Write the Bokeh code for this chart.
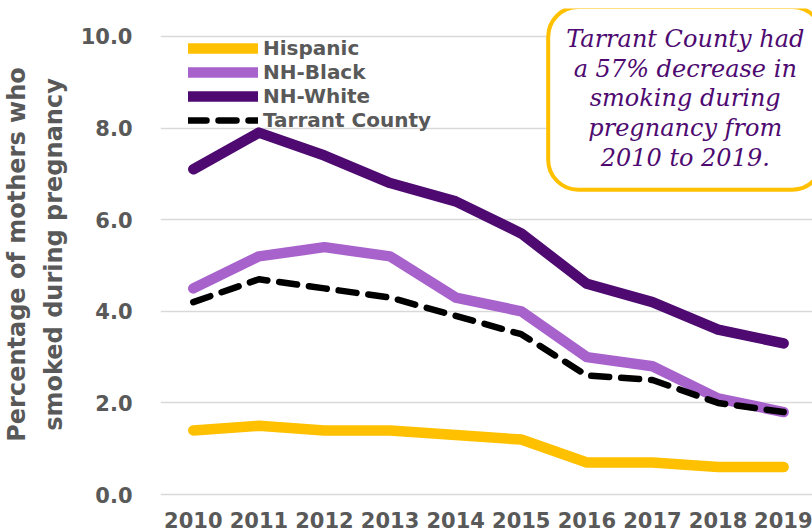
from bokeh.plotting import figure
from bokeh.models import (FixedTicker, NumeralTickFormatter, Legend, LegendItem,
                          Label, Range1d)
from bokeh.embed import file_html
from bokeh.resources import INLINE

years = [2010, 2011, 2012, 2013, 2014, 2015, 2016, 2017, 2018, 2019]
hispanic = [1.4, 1.5, 1.4, 1.4, 1.3, 1.2, 0.7, 0.7, 0.6, 0.6]
nh_black = [4.5, 5.2, 5.4, 5.2, 4.3, 4.0, 3.0, 2.8, 2.1, 1.8]
nh_white = [7.1, 7.9, 7.4, 6.8, 6.4, 5.7, 4.6, 4.2, 3.6, 3.3]
tarrant = [4.2, 4.7, 4.5, 4.3, 3.9, 3.5, 2.6, 2.5, 2.0, 1.8]
y_ticks = [0, 2, 4, 6, 8, 10]
series_names = ["Hispanic", "NH-Black", "NH-White", "Tarrant County"]
note = "Tarrant County had\na 57% decrease in\nsmoking during\npregnancy from\n2010 to 2019."

TXT = "#595959"
FONT = "DejaVu Sans"

p = figure(width=812, height=531, output_backend="svg", toolbar_location=None,
           x_range=Range1d(2009.5, 2019.44), y_range=Range1d(-0.13, 10.61),
           min_border_left=155, min_border_right=0, min_border_top=8,
           min_border_bottom=31)
p.outline_line_color = None
p.background_fill_color = "white"
p.border_fill_color = "white"

r1 = p.line(years, hispanic, line_color="#FFC000", line_width=10.5, line_cap="round", line_join="round")
r2 = p.line(years, nh_black, line_color="#A862CC", line_width=10.5, line_cap="round", line_join="round")
r3 = p.line(years, nh_white, line_color="#4E0A70", line_width=10.5, line_cap="round", line_join="round")
r4 = p.line(years, tarrant, line_color="black", line_width=6.5, line_dash="18 12",
            line_cap="round", line_join="round")

p.xgrid.grid_line_color = None
p.ygrid.grid_line_color = "#d9d9d9"
p.ygrid.grid_line_width = 1.5

p.xaxis.ticker = FixedTicker(ticks=years)
p.yaxis.ticker = FixedTicker(ticks=y_ticks)
p.yaxis.formatter = NumeralTickFormatter(format="0.0")
for ax in (p.xaxis, p.yaxis):
    ax.axis_line_color = None
    ax.major_tick_line_color = None
    ax.minor_tick_line_color = None
    ax.major_label_text_font = FONT
    ax.major_label_text_font_style = "bold"
    ax.major_label_text_color = TXT
    ax.major_label_text_font_size = "21px"
p.xaxis.major_label_standoff = 5
p.yaxis.major_label_standoff = 22
p.yaxis.axis_label = "Percentage of mothers who\nsmoked during pregnancy"
p.yaxis.axis_label_text_font = FONT
p.yaxis.axis_label_text_font_style = "bold"
p.yaxis.axis_label_text_font_size = "24px"
p.yaxis.axis_label_text_line_height = 1.3
p.yaxis.axis_label_text_color = TXT
p.yaxis.axis_label_standoff = 10

legend = Legend(items=[LegendItem(label=n, renderers=[r]) for n, r in
                       zip(series_names, [r1, r2, r3, r4])],
                location="top_left", margin=28, padding=0,
                glyph_width=70, glyph_height=20, label_height=20, spacing=-2,
                label_standoff=5, background_fill_alpha=0, border_line_color=None,
                label_text_font=FONT, label_text_font_style="bold",
                label_text_font_size="20px", label_text_line_height=1.0,
                label_text_color=TXT)
p.add_layout(legend)

lab = Label(x=2017.5, y=8.65, text=note, text_align="center", text_baseline="middle",
            text_font="DejaVu Serif", text_font_style="italic", text_font_size="24px",
            text_color="#4E0A70", text_line_height=1.06,
            background_fill_color="white", border_line_color="#FFC000",
            border_line_width=4, border_radius=30, padding=18)
p.add_layout(lab)

open("out.html", "w").write(file_html(p, INLINE))
